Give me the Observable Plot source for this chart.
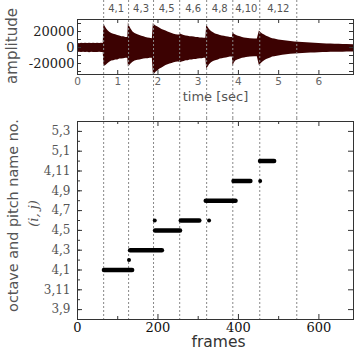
<!DOCTYPE html>
<html><head><meta charset="utf-8">
<script src="https://cdn.jsdelivr.net/npm/d3@7"></script>
<script src="https://cdn.jsdelivr.net/npm/@observablehq/plot@0.6"></script>
<style>
body{margin:0;background:#fff}
#wrap{position:relative;width:358px;height:350px;overflow:hidden;background:#fff}
#wrap svg{position:absolute;left:0}
</style></head><body><div id="wrap"></div>
<script>
// ---- data ----
const envTime = [0.00,0.05,0.10,0.15,0.20,0.25,0.30,0.35,0.40,0.45,0.50,0.55,0.60,0.64,
 0.655,0.68,0.72,0.76,0.80,0.85,0.90,0.95,1.00,1.05,1.10,1.15,1.20,1.25,
 1.265,1.29,1.33,1.38,1.43,1.50,1.55,1.60,1.65,1.70,1.75,1.80,1.86,
 1.885,1.91,1.95,2.00,2.05,2.10,2.15,2.20,2.25,2.30,2.35,2.40,2.45,2.50,2.545,
 2.56,2.60,2.65,2.70,2.75,2.80,2.85,2.90,2.95,3.00,3.05,3.10,3.15,3.19,
 3.21,3.24,3.28,3.33,3.38,3.43,3.50,3.55,3.60,3.65,3.70,3.75,3.80,3.85,
 3.865,3.89,3.93,3.98,4.05,4.10,4.15,4.20,4.30,4.40,4.47,
 4.52,4.55,4.60,4.65,4.70,4.75,4.80,4.85,4.90,5.00,5.10,5.20,5.30,5.40,5.50,5.60,5.70,5.80,5.90,6.00,6.10,6.20,6.30,6.40,6.50,6.60,6.70,6.86];
const envUpper = [5200,4800,5400,5000,5300,4900,5400,5000,5300,4900,5200,5000,5300,5100,
 29500,27000,23500,21000,19000,17500,16500,16000,15000,14500,13500,13500,12500,12500,
 31000,27000,23000,19500,17500,16000,15000,14000,13500,12500,12000,11500,11000,
 30000,28500,27000,25500,24000,22500,21500,20500,19500,18500,17500,16500,16000,15500,15500,
 17000,16000,15000,14500,14000,13500,13500,13000,12500,12500,12000,12000,11500,11500,
 27500,25500,22500,20000,18500,17000,16000,15000,14500,14000,13500,13000,12500,12500,
 19500,17000,15500,14500,13500,12500,12000,11500,11000,10500,10500,
 20500,19000,17000,15500,14000,13000,12000,11000,10500,9500,8800,8000,7500,7000,6500,6200,5800,5500,5200,5000,4800,4500,4300,4200,4000,3800,3600,3400];
const envLower = [-6200,-5800,-6400,-6000,-6300,-5900,-6500,-6000,-6200,-6100,-6300,-6000,-6400,-6100,
 -21000,-23500,-22000,-20000,-18500,-17000,-16500,-15500,-15500,-14500,-14500,-14000,-13500,-13500,
 -24500,-23000,-20500,-18500,-17000,-16000,-15500,-15000,-14500,-14000,-14000,-13500,-13500,
 -33500,-33500,-31000,-29000,-27000,-25500,-24000,-22500,-21500,-20500,-20000,-19000,-18500,-18000,-18500,
 -19000,-18000,-17500,-16500,-16500,-15500,-15500,-15000,-15000,-14500,-14000,-14000,-13500,-13500,
 -26500,-25000,-21500,-19000,-17500,-16500,-15500,-14500,-14000,-13500,-13000,-12500,-12000,-12000,
 -24500,-20000,-17000,-15500,-14500,-13500,-13000,-12500,-12000,-11500,-11500,
 -22500,-21000,-18500,-16500,-15000,-14000,-13000,-12000,-11500,-10500,-9800,-9000,-8500,-8000,-7800,-7500,-7200,-7000,-6800,-6500,-6300,-6200,-6000,-6000,-5900,-5800,-5700,-5600];

const onsetFrames = [65,127,189,254,321,386,453,545];
const onsetLabels = ["4,1","4,3","4,5","4,6","4,8","4,10","4,12"];

const barNotes = ["4,1","4,3","4,5","4,6","4,8","4,10","4,12"];
const barStart = [67,132,194,258,320,389,455];
const barEnd   = [137,211,256,304,394,431,490];
const dotNotes  = ["4,2","4,6","4,6","4,10"];
const dotFrames = [128,192,327,454];

const pitchTickLabels = ["3,9","3,11","4,1","4,3","4,5","4,7","4,9","4,11","5,1","5,3"];
const timeTicks = [0,1,2,3,4,5,6];
const ampTicks = [-20000,0,20000];
const ampMinorTicks = [-30000,-20000,-10000,0,10000,20000,30000];
const frameTicks = [0,200,400,600];
const frameMinorTicks = [100,300,500];

// ---- helpers ----
const semi = s => { const [o,p] = s.split(",").map(Number); return o*12 + p; };
const ink = "#333";
function xTickMarks(vals, fh, len){
  return [
    Plot.ruleX(vals,{x:d=>d, insetTop: fh-len, stroke:ink}),
    Plot.ruleX(vals,{x:d=>d, insetBottom: fh-len, stroke:ink})
  ];
}
function yTickMarks(vals, fw, len, left=true, right=true){
  const m = [];
  if (left) m.push(Plot.ruleY(vals,{y:d=>d, insetRight: fw-len, stroke:ink}));
  if (right) m.push(Plot.ruleY(vals,{y:d=>d, insetLeft: fw-len, stroke:ink}));
  return m;
}

const W = 358, mL = 77, mR = 5, FW = W - mL - mR;
const wrap = document.getElementById("wrap");

// ---- top panel: waveform ----
const topH = 118, tT = 19, tB = 44, topFH = topH - tT - tB;
const ampDomain = [-33750, 35000];
const ampPerPx = (ampDomain[1]-ampDomain[0]) / topFH;
const timeDomain = [0, 6.86];
const envData = envTime.map((t,i)=>({t, hi:envUpper[i], lo:envLower[i]}));
const labelData = onsetLabels.map((l,i)=>({l, x:(onsetFrames[i]+onsetFrames[i+1])/200}));

const topChart = Plot.plot({
  width:W, height:topH, marginTop:tT, marginBottom:tB, marginLeft:mL, marginRight:mR,
  x:{domain:timeDomain, axis:null}, y:{domain:ampDomain, axis:null},
  style:{background:"transparent", overflow:"visible"},
  marks:[
    Plot.areaY(envData,{x:"t", y1:"lo", y2:"hi", fill:"#3c0202"}),
    ...xTickMarks(timeTicks, topFH, 4),
    ...yTickMarks(ampMinorTicks, FW, 4),
    Plot.ruleX(onsetFrames,{x:d=>d/100, y1: ampDomain[1] + tT*ampPerPx, y2: ampDomain[0] - tB*ampPerPx,
      stroke:"#888", strokeDasharray:"2,2", strokeWidth:1}),
    Plot.frame({stroke:ink}),
    Plot.text(labelData,{x:"x", y: ampDomain[1] + (tT-8)*ampPerPx, text:"l",
      fontSize:10, fontFamily:"DejaVu Sans", fill:"#555"}),
    Plot.axisX(timeTicks,{anchor:"bottom", tickSize:0, tickPadding:3, label:null,
      fontSize:10.5, fontFamily:"DejaVu Sans", fill:"#666"}),
    Plot.axisY(ampTicks,{anchor:"left", tickSize:0, tickPadding:3, label:null, tickFormat:d=>String(d),
      fontSize:13, fontFamily:"DejaVu Serif", fill:"#222"}),
    Plot.text(["time [sec]"],{text:d=>d, frameAnchor:"bottom", dy:26, fontSize:13, fontFamily:"DejaVu Sans", fill:"#555"}),
    Plot.text(["amplitude"],{text:d=>d, frameAnchor:"left", textAnchor:"middle", dx:-65, dy:-1, rotate:-90, fontSize:15, fontFamily:"DejaVu Sans", fill:"#555"})
  ]
});
topChart.style.top = "0px";
wrap.appendChild(topChart);

// ---- bottom panel: pitch vs frames ----
const botH = 232, bT = 3, bB = 31, botFH = botH - bT - bB;
const pitchDomain = [44, 64];
const semiPerPx = (pitchDomain[1]-pitchDomain[0]) / botFH;
const frameDomain = [0, 686];
const pitchTicks = pitchTickLabels.map(semi);
const pitchMinor = d3.range(pitchDomain[0], pitchDomain[1]+1);
const labelOf = new Map(pitchTicks.map((v,i)=>[v, pitchTickLabels[i]]));
const bars = barNotes.map((n,i)=>({v:semi(n), s:barStart[i], e:barEnd[i]}));
const dots = dotNotes.map((n,i)=>({v:semi(n), f:dotFrames[i]}));

const botChart = Plot.plot({
  width:W, height:botH, marginTop:bT, marginBottom:bB, marginLeft:mL, marginRight:mR,
  x:{domain:frameDomain, axis:null}, y:{domain:pitchDomain, axis:null},
  style:{background:"transparent", overflow:"visible"},
  marks:[
    ...xTickMarks(frameTicks, botFH, 5),
    ...xTickMarks(frameMinorTicks, botFH, 3),
    ...yTickMarks(pitchTicks, FW, 5),
    ...yTickMarks(pitchMinor, FW, 3, true, false),
    Plot.ruleX(onsetFrames,{x:d=>d, y1: pitchDomain[1] + bT*semiPerPx, y2: pitchDomain[0],
      stroke:"#888", strokeDasharray:"2,2", strokeWidth:1}),
    Plot.ruleY(bars,{y:"v", x1:"s", x2:"e", stroke:"#000", strokeWidth:4.5, strokeLinecap:"round"}),
    Plot.dot(dots,{x:"f", y:"v", r:2, fill:"#000"}),
    Plot.frame({stroke:ink}),
    Plot.axisX(frameTicks,{anchor:"bottom", tickSize:0, tickPadding:3, label:null,
      fontSize:13, fontFamily:"DejaVu Serif", fill:"#111"}),
    Plot.axisY(pitchTicks,{anchor:"left", tickSize:0, tickPadding:7, label:null, tickFormat:d=>labelOf.get(d),
      fontSize:12, fontFamily:"DejaVu Serif", fill:"#555"}),
    Plot.text(["frames"],{text:d=>d, frameAnchor:"bottom", dy:27, dx:3, fontSize:15.5, fontFamily:"DejaVu Sans", fill:"#333"}),
    Plot.text(["octave and pitch name no."],{text:d=>d, frameAnchor:"left", textAnchor:"middle", dx:-64, dy:-5, rotate:-90,
      fontSize:14.4, fontFamily:"DejaVu Sans", fill:"#555"}),
    Plot.text(["(i, j)"],{text:d=>d, frameAnchor:"left", textAnchor:"middle", dx:-44, dy:-7, rotate:-90,
      fontSize:13, fontFamily:"DejaVu Serif", fontStyle:"italic", fill:"#555"})
  ]
});
botChart.style.top = topH + "px";
wrap.appendChild(botChart);
</script></body></html>
